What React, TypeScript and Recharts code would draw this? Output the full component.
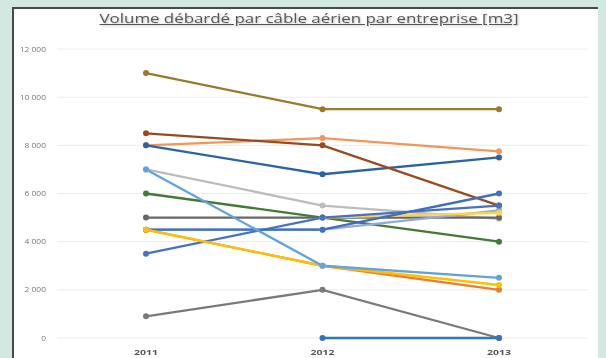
import { CartesianGrid, Line, LineChart, XAxis, YAxis } from "recharts";

const years = ["2011", "2012", "2013"];
const yTicks = [0, 2000, 4000, 6000, 8000, 10000, 12000];

// one list per company (null = no value that year)
const oliveCo = [11000, 9500, 9500];
const brownCo = [8500, 8000, 5500];
const peachCo = [8000, 8300, 7750];
const navyCo = [8000, 6800, 7500];
const silverCo = [7000, 5500, 4950];
const greenCo = [6000, 5000, 4000];
const charcoalCo = [5000, 5000, 5000];
const periwinkleCo = [4500, 4500, 5300];
const blueCo = [4500, 4500, 6000];
const azureCo = [3500, 5000, 5500];
const goldCo = [null, 5000, 5200];
const orangeCo = [4500, 3000, 2000];
const yellowCo = [4500, 3000, 2200];
const skyCo = [7000, 3000, 2500];
const greyCo = [900, 2000, 0];
const cobaltCo = [null, 0, 0];

const series = [
  { key: "olive", values: oliveCo, color: "#9a7a2a" },
  { key: "peach", values: peachCo, color: "#f1975a" },
  { key: "navy", values: navyCo, color: "#2b64a0" },
  { key: "brown", values: brownCo, color: "#9a4a1e" },
  { key: "silver", values: silverCo, color: "#bcbcbc" },
  { key: "green", values: greenCo, color: "#437a36" },
  { key: "charcoal", values: charcoalCo, color: "#666666" },
  { key: "periwinkle", values: periwinkleCo, color: "#8faadc" },
  { key: "gold", values: goldCo, color: "#ffd24a" },
  { key: "azure", values: azureCo, color: "#4472c4" },
  { key: "blue", values: blueCo, color: "#3e6fc2" },
  { key: "orange", values: orangeCo, color: "#ed7d31" },
  { key: "yellow", values: yellowCo, color: "#ffc000" },
  { key: "sky", values: skyCo, color: "#62a3dc" },
  { key: "grey", values: greyCo, color: "#7a7a7a" },
  { key: "cobalt", values: cobaltCo, color: "#2f75c0" }
];

const data = years.map((year, i) => {
  const row: Record<string, string | number | null> = { year };
  series.forEach((s) => {
    row[s.key] = s.values[i];
  });
  return row;
});

const fmt = (v: number) => v.toLocaleString("fr-FR").replace(/\s/g, " ");

// the source picture is stretched sideways, so small labels get a scaleX
const YTick = (props: any) => {
  const { x, y, payload } = props;
  return (
    <g transform={`translate(${x},${y}) scale(1.3,1)`}>
      <text x={0} y={0} dy={2.5} textAnchor="end" fontSize={6.5} fill="#777">
        {fmt(payload.value)}
      </text>
    </g>
  );
};

const XTick = (props: any) => {
  const { x, y, payload } = props;
  return (
    <g transform={`translate(${x},${y}) scale(1.5,1)`}>
      <text x={0} y={0} dy={9} textAnchor="middle" fontSize={7} fontWeight={700} fill="#555">
        {payload.value}
      </text>
    </g>
  );
};

export default function App() {
  return (
    <div
      style={{
        position: "fixed",
        left: 0,
        top: 0,
        width: 606,
        height: 358,
        background: "#d4e8e2",
        overflow: "hidden",
        fontFamily: "'Open Sans', sans-serif",
        filter: "blur(0.4px)"
      }}
    >
      <div
        style={{
          position: "absolute",
          left: 12,
          top: 7,
          width: 584,
          height: 360,
          background: "#ffffff",
          borderLeft: "2px solid #4a4a4a",
          borderTop: "2px solid #4a4a4a"
        }}
      />
      <div
        style={{
          position: "absolute",
          left: 309,
          top: 9,
          transform: "translateX(-50%) scaleX(1.25)",
          whiteSpace: "nowrap",
          fontSize: 13.5,
          color: "#555555",
          textDecoration: "underline",
          textShadow: "1px 1px 2px rgba(0,0,0,0.25)"
        }}
      >
        Volume débardé par câble aérien par entreprise [m3]
      </div>
      <div style={{ position: "absolute", left: 0, top: 0 }}>
        <LineChart
          width={606}
          height={358}
          data={data}
          margin={{ top: 49, right: 18, bottom: 4, left: 12 }}
        >
          <CartesianGrid stroke="#ececec" vertical={false} />
          <XAxis
            dataKey="year"
            axisLine={false}
            tickLine={false}
            height={16}
            padding={{ left: 89, right: 89 }}
            tick={<XTick />}
          />
          <YAxis
            domain={[0, 12000]}
            ticks={yTicks}
            axisLine={false}
            tickLine={false}
            width={45}
            tickSize={0}
            tickMargin={11}
            tick={<YTick />}
          />
          {series.map((s) => (
            <Line
              key={s.key}
              dataKey={s.key}
              stroke={s.color}
              strokeWidth={2.3}
              dot={{ r: 3, fill: s.color, stroke: s.color, strokeWidth: 0 }}
              isAnimationActive={false}
            />
          ))}
        </LineChart>
      </div>
    </div>
  );
}
